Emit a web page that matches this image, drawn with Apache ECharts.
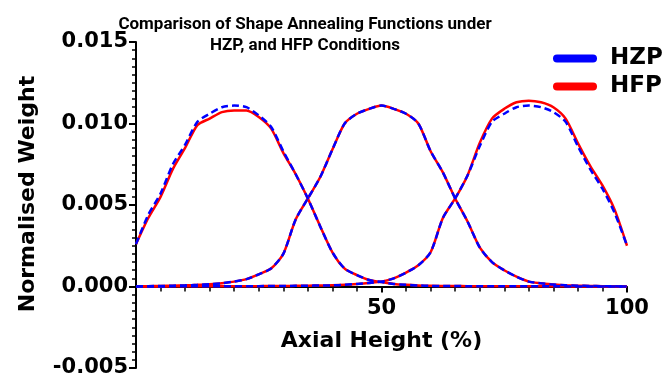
<!DOCTYPE html>
<html>
<head>
<meta charset="utf-8">
<script src="https://cdn.jsdelivr.net/npm/echarts@6/dist/echarts.min.js"></script>
<style>
  html, body { margin: 0; padding: 0; background: #fff; }
  #chart { width: 662px; height: 378px; }
</style>
</head>
<body>
<div id="chart"></div>
<script>
// Axial height grid (%)
const axialHeight = [0, 2.5, 5, 7.5, 10, 12.5, 15, 17.5, 20, 22.5, 25, 27.5, 30, 32.5, 35, 37.5, 40,
  42.5, 45, 47.5, 50, 52.5, 55, 57.5, 60, 62.5, 65, 67.5, 70, 72.5, 75, 77.5, 80, 82.5, 85, 87.5, 90,
  92.5, 95, 97.5, 100];

// Bottom detector function
const hzpBottom = [0.0026, 0.0044, 0.0057, 0.0075, 0.0087, 0.0101, 0.0106, 0.0110, 0.0111, 0.0110,
  0.0105, 0.0098, 0.0083, 0.0069, 0.0054, 0.0037, 0.0021, 0.0011, 0.0007, 0.0004, 0.00027, 0.00016,
  0.0001, 0.00006, 0.00004, 0.00003, 0.00003, 0.00002, 0.00002, 0.00002, 0.00001, 0.00001, 0.00001,
  0.00001, 0.00001, 0.00001, 0, 0, 0, 0, 0];
const hfpBottom = [0.0026, 0.0042, 0.0055, 0.0072, 0.0085, 0.0099, 0.0103, 0.0107, 0.0108, 0.0108,
  0.0104, 0.0097, 0.0082, 0.0069, 0.0054, 0.0037, 0.0021, 0.0011, 0.0007, 0.0004, 0.00027, 0.00016,
  0.0001, 0.00006, 0.00004, 0.00003, 0.00003, 0.00002, 0.00002, 0.00002, 0.00001, 0.00001, 0.00001,
  0.00001, 0.00001, 0.00001, 0, 0, 0, 0, 0];

// Middle detector function
const hzpMiddle = [0, 0.00002, 0.00003, 0.00005, 0.00007, 0.0001, 0.00014, 0.0002, 0.0003, 0.00045,
  0.00075, 0.0011, 0.0020, 0.0041, 0.0054, 0.0067, 0.0084, 0.0100, 0.0106, 0.0109, 0.0111, 0.0109,
  0.0106, 0.0100, 0.0083, 0.0070, 0.0054, 0.0040, 0.0024, 0.0015, 0.0010, 0.0006, 0.0003, 0.0002,
  0.00012, 0.00008, 0.00005, 0.00003, 0.00002, 0.00001, 0];
const hfpMiddle = [0, 0.00002, 0.00003, 0.00005, 0.00007, 0.0001, 0.00014, 0.0002, 0.0003, 0.00045,
  0.00075, 0.0011, 0.0020, 0.0041, 0.0054, 0.0067, 0.0084, 0.0100, 0.0106, 0.0109, 0.0111, 0.0109,
  0.0106, 0.0100, 0.0083, 0.0070, 0.0054, 0.0040, 0.0024, 0.0015, 0.0010, 0.0006, 0.0003, 0.0002,
  0.00012, 0.00008, 0.00005, 0.00003, 0.00002, 0.00001, 0];

// Top detector function
const hzpTop = [0, 0, 0, 0.00001, 0.00001, 0.00001, 0.00001, 0.00001, 0.00002, 0.00002, 0.00002,
  0.00003, 0.00003, 0.00004, 0.00005, 0.00006, 0.00007, 0.0001, 0.00016, 0.00022, 0.0003, 0.0005,
  0.00085, 0.0013, 0.0021, 0.0042, 0.0054, 0.0068, 0.0086, 0.0101, 0.0106, 0.0110, 0.0111, 0.0110,
  0.0107, 0.0101, 0.0086, 0.0072, 0.0060, 0.0045, 0.0025];
const hfpTop = [0, 0, 0, 0.00001, 0.00001, 0.00001, 0.00001, 0.00001, 0.00002, 0.00002, 0.00002,
  0.00003, 0.00003, 0.00004, 0.00005, 0.00006, 0.00007, 0.0001, 0.00016, 0.00022, 0.0003, 0.0005,
  0.00085, 0.0013, 0.0021, 0.0042, 0.0054, 0.0068, 0.0088, 0.0103, 0.0109, 0.0113, 0.0114, 0.0113,
  0.0110, 0.0103, 0.0088, 0.0074, 0.0062, 0.0047, 0.0025];

const yTicks = { min: -0.005, max: 0.015, step: 0.005 };
const xTicks = { min: 0, max: 100, step: 50 };

const FONT = '"DejaVu Sans", sans-serif';
const BLUE = '#0000ff';
const RED = '#ff0000';

const chart = echarts.init(document.getElementById('chart'));

function pairs(ys) {
  return axialHeight.map((x, i) => [x, ys[i]]);
}

function curve(name, ys, color, dashed) {
  return {
    name: name,
    type: 'line',
    data: pairs(ys),
    symbol: 'none',
    smooth: 0.25,
    color: color,
    itemStyle: { color: color },
    lineStyle: { color: color, width: 2.5, type: dashed ? [7, 4] : 'solid' },
    z: dashed ? 3 : 2,
  };
}

const axisText = { color: '#000', fontFamily: FONT, fontWeight: 'bold' };

// x axis sits on y = 0, which is 1/4 of the grid height above the bottom
const gridTop = 42;
const gridBottom = 10;
const zeroOffset = -(378 - gridTop - gridBottom) / 4;

const option = {
  animation: false,
  backgroundColor: '#fff',
  title: {
    text: 'Comparison of Shape Annealing Functions under\nHZP, and HFP Conditions',
    left: 300,
    top: 9,
    textAlign: 'center',
    textStyle: {
      color: '#000',
      fontFamily: '"Roboto", sans-serif',
      fontWeight: 'bold',
      fontSize: 17,
      lineHeight: 21,
    },
  },
  legend: {
    orient: 'vertical',
    left: 548,
    top: 42,
    itemWidth: 44,
    itemHeight: 9,
    itemGap: 5,
    icon: 'path://M4,0 H40 A4,4 0 0 1 40,8 H4 A4,4 0 0 1 4,0 Z',
    data: ['HZP', 'HFP'],
    textStyle: { ...axisText, fontSize: 23, padding: [0, 0, 0, 8] },
  },
  grid: { left: 136, right: 35, top: gridTop, bottom: gridBottom, containLabel: false, outerBoundsMode: 'none' },
  xAxis: {
    type: 'value',
    min: xTicks.min,
    max: xTicks.max,
    interval: xTicks.step,
    offset: zeroOffset,
    name: 'Axial Height (%)',
    nameLocation: 'middle',
    nameGap: 44,
    nameTextStyle: { ...axisText, fontSize: 22 },
    axisLine: { show: true, onZero: false, lineStyle: { color: '#000', width: 2 } },
    axisTick: { show: true, length: 6, lineStyle: { color: '#000', width: 2 } },
    minorTick: { show: true, splitNumber: 10, length: 5, lineStyle: { color: '#000', width: 1.5 } },
    splitLine: { show: false },
    axisLabel: {
      ...axisText,
      fontSize: 21,
      margin: 12,
      formatter: (v) => (v === 0 ? '' : String(v)),
    },
  },
  yAxis: {
    type: 'value',
    min: yTicks.min,
    max: yTicks.max,
    interval: yTicks.step,
    name: 'Normalised Weight',
    nameLocation: 'middle',
    nameGap: 97,
    nameTextStyle: { ...axisText, fontSize: 22, padding: [0, 0, 0, 22] },
    axisLine: { show: true, lineStyle: { color: '#000', width: 2 } },
    axisTick: { show: true, length: 7, lineStyle: { color: '#000', width: 2 } },
    minorTick: { show: true, splitNumber: 10, length: 4, lineStyle: { color: '#000', width: 1.5 } },
    splitLine: { show: false },
    axisLabel: {
      ...axisText,
      fontSize: 21,
      margin: 8,
      formatter: (v) => v.toFixed(3),
    },
  },
  series: [
    curve('HFP', hfpBottom, RED, false),
    curve('HFP', hfpMiddle, RED, false),
    curve('HFP', hfpTop, RED, false),
    curve('HZP', hzpBottom, BLUE, true),
    curve('HZP', hzpMiddle, BLUE, true),
    curve('HZP', hzpTop, BLUE, true),
  ],
};

chart.setOption(option);
</script>
</body>
</html>
